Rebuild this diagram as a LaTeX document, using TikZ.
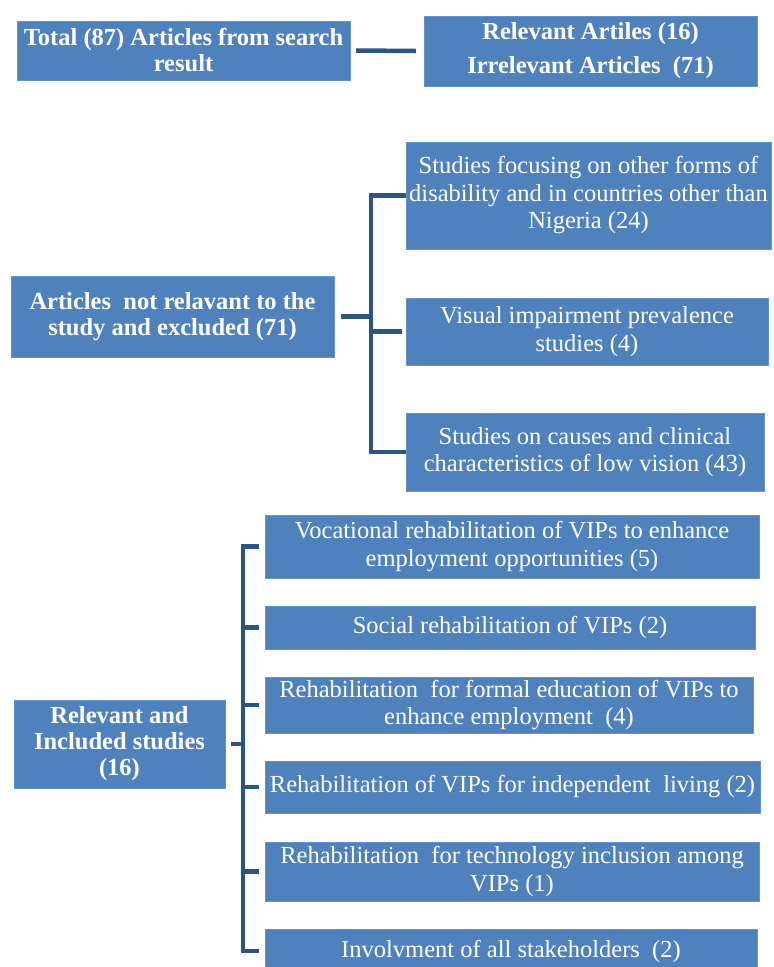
\documentclass[tikz,border=0pt]{standalone}
\usepackage{fontspec}
\setmainfont{Liberation Serif}
\usepackage{tikz}

\definecolor{boxblue}{RGB}{79,129,189}
\definecolor{boxedge}{RGB}{98,146,203}
\definecolor{linkblue}{RGB}{44,84,132}

\begin{document}
\begin{tikzpicture}[x=1pt,y=-1pt,
    box/.style={fill=boxblue,draw=boxedge,text=white,align=center,inner sep=0pt,
      font=\fontsize{24.5}{27.5}\selectfont},
    hbox/.style={box,font=\fontsize{24.5}{26}\selectfont\bfseries},
    link/.style={draw=linkblue,line width=4.5pt}]
          \useasboundingbox (0,0) rectangle (774,967);
          % top row
          \node[hbox,minimum width=333,minimum height=59] (tot) at (183.5,50.5)
            {Total (87) Articles from search\\result};
          \node[hbox,minimum width=333,minimum height=70] (res) at (590.5,51)
            {Relevant Artiles (16)\\[8pt]Irrelevant Articles\ \ (71)};
          \draw[link] ([xshift=6pt]tot.east) -- ([xshift=-8pt]res.west);
          % excluded
          \node[hbox,minimum width=323,minimum height=81] (excl) at (172.5,316.5)
            {Articles\ \ not relavant to the\\study and excluded (71)};
          \node[box,minimum width=365,minimum height=107] (oth) at (588.5,195.5)
            {Studies focusing on other forms of\\disability and in countries other than\\Nigeria (24)};
          \node[box,minimum width=362,minimum height=67] (vis) at (587,331.5)
            {Visual impairment prevalence\\studies (4)};
          \node[box,minimum width=358,minimum height=78] (cau) at (585,452)
            {Studies on causes and clinical\\characteristics of low vision (43)};
          \draw[link] (oth.west) -- ++(-35,0) |- (cau.west);
          \draw[link] ([xshift=-4pt]vis.west) -- ++(-31,0);
          \draw[link] ([xshift=7pt]excl.east) -- ++(28,0);
          % included
          \node[hbox,minimum width=211,minimum height=88] (rel) at (119.5,744)
            {Relevant and\\Included studies\\(16)};
          \node[box,minimum width=494,minimum height=63] (voc) at (512,546.5)
            {Vocational rehabilitation of VIPs to enhance\\employment opportunities (5)};
          \node[box,minimum width=490,minimum height=43] (soc) at (510,627.5)
            {Social rehabilitation of VIPs (2)};
          \node[box,minimum width=488,minimum height=56] (edu) at (509,705)
            {Rehabilitation\ \ for formal education of VIPs to\\enhance employment\ \ (4)};
          \node[box,minimum width=495,minimum height=52] (ind) at (512.5,787)
            {Rehabilitation of VIPs for independent\ \ living (2)};
          \node[box,minimum width=494,minimum height=59] (tec) at (512,871.5)
            {Rehabilitation\ \ for technology inclusion among\\VIPs (1)};
          \node[box,minimum width=492,minimum height=44] (sta) at (511,951)
            {Involvment of all stakeholders\ \ (2)};
          \draw[link] ([xshift=-6pt]voc.west) -- ++(-16,0) |- ([xshift=-6pt]sta.west);
          \foreach \n in {soc,edu,ind,tec}
            \draw[link] ([xshift=-6pt]\n.west) -- ++(-16,0);
          \draw[link] ([xshift=6pt]rel.east) -- ++(12,0);
        \end{tikzpicture}
\end{document}
